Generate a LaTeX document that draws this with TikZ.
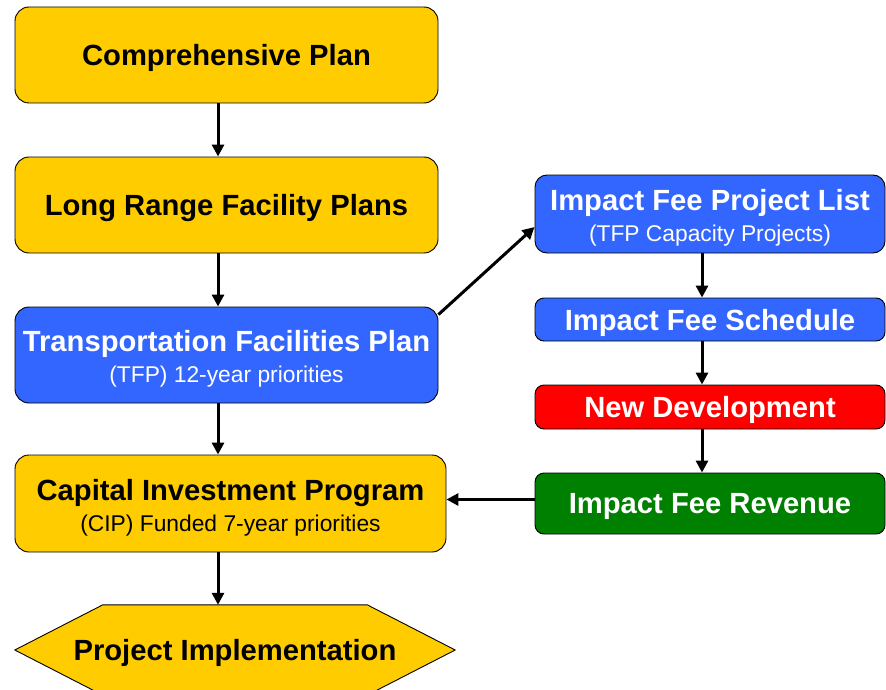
\documentclass[tikz,border=0pt]{standalone}
\usepackage{fontspec}
\setmainfont{Liberation Sans}
\usetikzlibrary{arrows.meta,calc}
\definecolor{cyel}{HTML}{FFCC00}
\definecolor{cblue}{HTML}{3366FF}
\definecolor{cred}{HTML}{FF0000}
\definecolor{cgreen}{HTML}{008000}
\tikzset{
  box/.style={draw=black, line width=0.9pt, rounded corners=14pt, align=center, inner sep=0pt},
  leftbox/.style={box, fill=cyel, text=black, minimum width=423pt, minimum height=96pt},
  rightbox/.style={box, rounded corners=9pt, text=white, minimum width=350pt},
  arr/.style={line width=3pt, -{Triangle[length=12pt,width=12pt]}},
  ttl/.style={font=\fontsize{29.2}{31}\selectfont\bfseries, text depth=0pt},
  two/.style={font=\fontsize{22.8}{31}\selectfont},
}
\newcommand{\ttlt}[1]{{\fontsize{29.2}{31}\selectfont\bfseries\rule{0pt}{29pt}#1}}
\begin{document}
\begin{tikzpicture}[x=1pt,y=-1pt]
\useasboundingbox (0,0) rectangle (886,690);
\coordinate (lx) at (218,0);
\coordinate (rx) at (702,0);
\node[leftbox, ttl] (cp) at (226.5,55) {Comprehensive Plan};
\node[leftbox, ttl] (lr) at (226.5,205) {Long Range Facility Plans};
\node[leftbox, fill=cblue, text=white, two] (tfp) at (226.5,355)
  {\ttlt{Transportation Facilities Plan}\\(TFP) 12-year priorities};
\node[leftbox, minimum width=431pt, minimum height=97pt, two] (cip) at (230.5,503.5)
  {\ttlt{Capital Investment Program}\\(CIP) Funded 7-year priorities};
% hexagon
\node[inner sep=0pt, minimum width=440pt, minimum height=90pt] (impl) at (235,650) {};
\fill[cyel, draw=black, line width=0.9pt]
  ($(impl.north west)+(88,0)$) -- ($(impl.north east)+(-88,0)$) -- (impl.east)
  -- ($(impl.south east)+(-88,0)$) -- ($(impl.south west)+(88,0)$) -- (impl.west) -- cycle;
\node[ttl] (impltxt) at (impl.center) {Project Implementation};
% right column
\node[rightbox, fill=cblue, rounded corners=12pt, minimum height=78pt, two] (ifl) at (710,214)
  {\ttlt{Impact Fee Project List}\\(TFP Capacity Projects)};
\node[rightbox, fill=cblue, minimum height=43pt, ttl] (ifs) at (710,319.5) {Impact Fee Schedule};
\node[rightbox, fill=cred, minimum height=44pt, ttl] (nd) at (710,407) {New Development};
\node[rightbox, fill=cgreen, minimum height=61pt, ttl] (rev) at (710,503.5) {Impact Fee Revenue};
% connectors
\draw[arr] (cp.south -| lx) -- (lr.north -| lx);
\draw[arr] (lr.south -| lx) -- (tfp.north -| lx);
\draw[arr] (tfp.south -| lx) -- (cip.north -| lx);
\draw[arr] (cip.south -| lx) -- (impl.north -| lx);
\draw[arr] ($(tfp.north east)+(0,8)$) -- ($(ifl.west)+(0,13)$);
\draw[arr] (ifl.south -| rx) -- (ifs.north -| rx);
\draw[arr] (ifs.south -| rx) -- (nd.north -| rx);
\draw[arr] (nd.south -| rx) -- (rev.north -| rx);
\draw[arr] ($(rev.west)+(0,-4)$) -- ($(cip.east |- rev.west)+(0,-4)$);
\end{tikzpicture}
\end{document}
